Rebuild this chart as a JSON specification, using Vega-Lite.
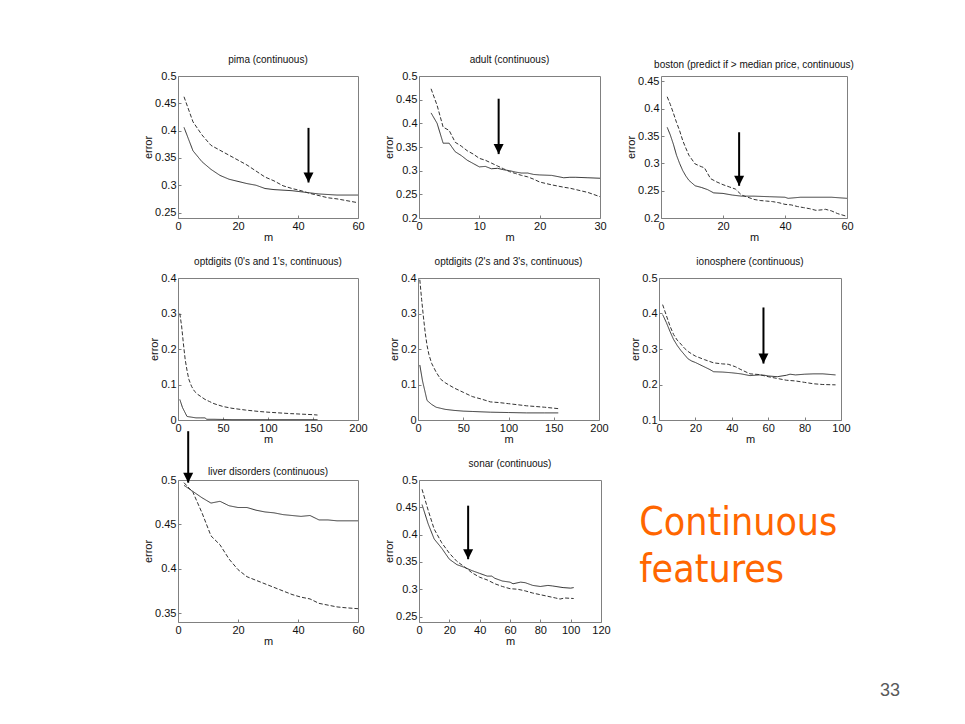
{
  "$schema": "https://vega.github.io/schema/vega-lite/v6.json",
  "background": "white",
  "padding": {"left": 142, "top": 54, "right": 40, "bottom": 20},
  "spacing": 13,
  "datasets": {
    "curves": [
      {"p":"pima","s":"solid","m":2,"e":0.406},{"p":"pima","s":"solid","m":5,"e":0.363},{"p":"pima","s":"solid","m":8,"e":0.343},{"p":"pima","s":"solid","m":11,"e":0.329},{"p":"pima","s":"solid","m":14,"e":0.318},{"p":"pima","s":"solid","m":17,"e":0.311},{"p":"pima","s":"solid","m":20,"e":0.307},{"p":"pima","s":"solid","m":23,"e":0.303},{"p":"pima","s":"solid","m":26,"e":0.300},{"p":"pima","s":"solid","m":29,"e":0.294},{"p":"pima","s":"solid","m":32,"e":0.292},{"p":"pima","s":"solid","m":35,"e":0.291},{"p":"pima","s":"solid","m":38,"e":0.290},{"p":"pima","s":"solid","m":41,"e":0.288},{"p":"pima","s":"solid","m":44,"e":0.286},{"p":"pima","s":"solid","m":47,"e":0.284},{"p":"pima","s":"solid","m":50,"e":0.283},{"p":"pima","s":"solid","m":53,"e":0.282},{"p":"pima","s":"solid","m":56,"e":0.282},{"p":"pima","s":"solid","m":60,"e":0.282},
      {"p":"pima","s":"dashed","m":2,"e":0.462},{"p":"pima","s":"dashed","m":5,"e":0.416},{"p":"pima","s":"dashed","m":8,"e":0.392},{"p":"pima","s":"dashed","m":11,"e":0.373},{"p":"pima","s":"dashed","m":14,"e":0.364},{"p":"pima","s":"dashed","m":17,"e":0.355},{"p":"pima","s":"dashed","m":20,"e":0.346},{"p":"pima","s":"dashed","m":23,"e":0.337},{"p":"pima","s":"dashed","m":26,"e":0.326},{"p":"pima","s":"dashed","m":29,"e":0.315},{"p":"pima","s":"dashed","m":32,"e":0.308},{"p":"pima","s":"dashed","m":35,"e":0.299},{"p":"pima","s":"dashed","m":38,"e":0.294},{"p":"pima","s":"dashed","m":41,"e":0.290},{"p":"pima","s":"dashed","m":44,"e":0.285},{"p":"pima","s":"dashed","m":47,"e":0.281},{"p":"pima","s":"dashed","m":50,"e":0.277},{"p":"pima","s":"dashed","m":53,"e":0.275},{"p":"pima","s":"dashed","m":56,"e":0.272},{"p":"pima","s":"dashed","m":60,"e":0.268},

      {"p":"adult","s":"solid","m":2,"e":0.422},{"p":"adult","s":"solid","m":3,"e":0.400},{"p":"adult","s":"solid","m":4,"e":0.358},{"p":"adult","s":"solid","m":5,"e":0.358},{"p":"adult","s":"solid","m":6,"e":0.340},{"p":"adult","s":"solid","m":7,"e":0.332},{"p":"adult","s":"solid","m":8,"e":0.322},{"p":"adult","s":"solid","m":9,"e":0.315},{"p":"adult","s":"solid","m":10,"e":0.308},{"p":"adult","s":"solid","m":11,"e":0.309},{"p":"adult","s":"solid","m":12,"e":0.304},{"p":"adult","s":"solid","m":13,"e":0.305},{"p":"adult","s":"solid","m":14,"e":0.302},{"p":"adult","s":"solid","m":15,"e":0.300},{"p":"adult","s":"solid","m":16,"e":0.297},{"p":"adult","s":"solid","m":17,"e":0.295},{"p":"adult","s":"solid","m":18,"e":0.295},{"p":"adult","s":"solid","m":19,"e":0.292},{"p":"adult","s":"solid","m":20,"e":0.291},{"p":"adult","s":"solid","m":22,"e":0.290},{"p":"adult","s":"solid","m":24,"e":0.285},{"p":"adult","s":"solid","m":25,"e":0.286},{"p":"adult","s":"solid","m":26,"e":0.286},{"p":"adult","s":"solid","m":28,"e":0.285},{"p":"adult","s":"solid","m":30,"e":0.284},
      {"p":"adult","s":"dashed","m":2,"e":0.473},{"p":"adult","s":"dashed","m":3,"e":0.438},{"p":"adult","s":"dashed","m":4,"e":0.392},{"p":"adult","s":"dashed","m":5,"e":0.385},{"p":"adult","s":"dashed","m":6,"e":0.360},{"p":"adult","s":"dashed","m":7,"e":0.352},{"p":"adult","s":"dashed","m":8,"e":0.342},{"p":"adult","s":"dashed","m":9,"e":0.335},{"p":"adult","s":"dashed","m":10,"e":0.326},{"p":"adult","s":"dashed","m":11,"e":0.322},{"p":"adult","s":"dashed","m":12,"e":0.316},{"p":"adult","s":"dashed","m":13,"e":0.310},{"p":"adult","s":"dashed","m":14,"e":0.304},{"p":"adult","s":"dashed","m":15,"e":0.298},{"p":"adult","s":"dashed","m":16,"e":0.294},{"p":"adult","s":"dashed","m":17,"e":0.290},{"p":"adult","s":"dashed","m":18,"e":0.287},{"p":"adult","s":"dashed","m":19,"e":0.282},{"p":"adult","s":"dashed","m":20,"e":0.276},{"p":"adult","s":"dashed","m":22,"e":0.270},{"p":"adult","s":"dashed","m":24,"e":0.265},{"p":"adult","s":"dashed","m":25,"e":0.263},{"p":"adult","s":"dashed","m":26,"e":0.260},{"p":"adult","s":"dashed","m":28,"e":0.254},{"p":"adult","s":"dashed","m":30,"e":0.245},

      {"p":"boston","s":"solid","m":2,"e":0.366},{"p":"boston","s":"solid","m":3,"e":0.352},{"p":"boston","s":"solid","m":4,"e":0.335},{"p":"boston","s":"solid","m":5,"e":0.315},{"p":"boston","s":"solid","m":6,"e":0.300},{"p":"boston","s":"solid","m":7,"e":0.287},{"p":"boston","s":"solid","m":8,"e":0.277},{"p":"boston","s":"solid","m":9,"e":0.269},{"p":"boston","s":"solid","m":11,"e":0.259},{"p":"boston","s":"solid","m":13,"e":0.256},{"p":"boston","s":"solid","m":15,"e":0.252},{"p":"boston","s":"solid","m":17,"e":0.246},{"p":"boston","s":"solid","m":20,"e":0.245},{"p":"boston","s":"solid","m":23,"e":0.242},{"p":"boston","s":"solid","m":26,"e":0.240},{"p":"boston","s":"solid","m":30,"e":0.240},{"p":"boston","s":"solid","m":35,"e":0.239},{"p":"boston","s":"solid","m":40,"e":0.238},{"p":"boston","s":"solid","m":41,"e":0.236},{"p":"boston","s":"solid","m":45,"e":0.238},{"p":"boston","s":"solid","m":50,"e":0.238},{"p":"boston","s":"solid","m":55,"e":0.238},{"p":"boston","s":"solid","m":60,"e":0.236},
      {"p":"boston","s":"dashed","m":2,"e":0.422},{"p":"boston","s":"dashed","m":3,"e":0.408},{"p":"boston","s":"dashed","m":4,"e":0.392},{"p":"boston","s":"dashed","m":5,"e":0.375},{"p":"boston","s":"dashed","m":6,"e":0.360},{"p":"boston","s":"dashed","m":7,"e":0.342},{"p":"boston","s":"dashed","m":8,"e":0.328},{"p":"boston","s":"dashed","m":9,"e":0.315},{"p":"boston","s":"dashed","m":11,"e":0.299},{"p":"boston","s":"dashed","m":13,"e":0.294},{"p":"boston","s":"dashed","m":14,"e":0.292},{"p":"boston","s":"dashed","m":16,"e":0.272},{"p":"boston","s":"dashed","m":18,"e":0.266},{"p":"boston","s":"dashed","m":20,"e":0.261},{"p":"boston","s":"dashed","m":22,"e":0.257},{"p":"boston","s":"dashed","m":24,"e":0.253},{"p":"boston","s":"dashed","m":26,"e":0.242},{"p":"boston","s":"dashed","m":28,"e":0.238},{"p":"boston","s":"dashed","m":30,"e":0.234},{"p":"boston","s":"dashed","m":32,"e":0.232},{"p":"boston","s":"dashed","m":34,"e":0.231},{"p":"boston","s":"dashed","m":36,"e":0.230},{"p":"boston","s":"dashed","m":38,"e":0.228},{"p":"boston","s":"dashed","m":40,"e":0.225},{"p":"boston","s":"dashed","m":42,"e":0.224},{"p":"boston","s":"dashed","m":44,"e":0.221},{"p":"boston","s":"dashed","m":46,"e":0.219},{"p":"boston","s":"dashed","m":48,"e":0.217},{"p":"boston","s":"dashed","m":50,"e":0.214},{"p":"boston","s":"dashed","m":52,"e":0.215},{"p":"boston","s":"dashed","m":53,"e":0.216},{"p":"boston","s":"dashed","m":55,"e":0.213},{"p":"boston","s":"dashed","m":57,"e":0.208},{"p":"boston","s":"dashed","m":60,"e":0.203},

      {"p":"opt01","s":"solid","m":2,"e":0.058},{"p":"opt01","s":"solid","m":5,"e":0.035},{"p":"opt01","s":"solid","m":10,"e":0.010},{"p":"opt01","s":"solid","m":15,"e":0.008},{"p":"opt01","s":"solid","m":20,"e":0.006},{"p":"opt01","s":"solid","m":25,"e":0.006},{"p":"opt01","s":"solid","m":30,"e":0.006},{"p":"opt01","s":"solid","m":32,"e":0.002},{"p":"opt01","s":"solid","m":40,"e":0.002},{"p":"opt01","s":"solid","m":60,"e":0.001},{"p":"opt01","s":"solid","m":80,"e":0.001},{"p":"opt01","s":"solid","m":100,"e":0.001},{"p":"opt01","s":"solid","m":120,"e":0.001},{"p":"opt01","s":"solid","m":140,"e":0.001},{"p":"opt01","s":"solid","m":155,"e":0.001},
      {"p":"opt01","s":"dashed","m":2,"e":0.300},{"p":"opt01","s":"dashed","m":4,"e":0.265},{"p":"opt01","s":"dashed","m":6,"e":0.215},{"p":"opt01","s":"dashed","m":8,"e":0.170},{"p":"opt01","s":"dashed","m":10,"e":0.140},{"p":"opt01","s":"dashed","m":12,"e":0.115},{"p":"opt01","s":"dashed","m":15,"e":0.095},{"p":"opt01","s":"dashed","m":18,"e":0.082},{"p":"opt01","s":"dashed","m":22,"e":0.072},{"p":"opt01","s":"dashed","m":26,"e":0.065},{"p":"opt01","s":"dashed","m":30,"e":0.058},{"p":"opt01","s":"dashed","m":35,"e":0.052},{"p":"opt01","s":"dashed","m":40,"e":0.046},{"p":"opt01","s":"dashed","m":50,"e":0.038},{"p":"opt01","s":"dashed","m":60,"e":0.033},{"p":"opt01","s":"dashed","m":75,"e":0.028},{"p":"opt01","s":"dashed","m":90,"e":0.024},{"p":"opt01","s":"dashed","m":100,"e":0.022},{"p":"opt01","s":"dashed","m":125,"e":0.018},{"p":"opt01","s":"dashed","m":150,"e":0.015},{"p":"opt01","s":"dashed","m":155,"e":0.014},

      {"p":"opt23","s":"solid","m":2,"e":0.155},{"p":"opt23","s":"solid","m":5,"e":0.110},{"p":"opt23","s":"solid","m":10,"e":0.055},{"p":"opt23","s":"solid","m":15,"e":0.044},{"p":"opt23","s":"solid","m":20,"e":0.036},{"p":"opt23","s":"solid","m":25,"e":0.033},{"p":"opt23","s":"solid","m":30,"e":0.030},{"p":"opt23","s":"solid","m":40,"e":0.027},{"p":"opt23","s":"solid","m":50,"e":0.025},{"p":"opt23","s":"solid","m":60,"e":0.024},{"p":"opt23","s":"solid","m":80,"e":0.022},{"p":"opt23","s":"solid","m":100,"e":0.021},{"p":"opt23","s":"solid","m":120,"e":0.020},{"p":"opt23","s":"solid","m":140,"e":0.020},{"p":"opt23","s":"solid","m":155,"e":0.020},
      {"p":"opt23","s":"dashed","m":2,"e":0.395},{"p":"opt23","s":"dashed","m":4,"e":0.340},{"p":"opt23","s":"dashed","m":6,"e":0.290},{"p":"opt23","s":"dashed","m":8,"e":0.245},{"p":"opt23","s":"dashed","m":10,"e":0.210},{"p":"opt23","s":"dashed","m":12,"e":0.185},{"p":"opt23","s":"dashed","m":15,"e":0.160},{"p":"opt23","s":"dashed","m":20,"e":0.135},{"p":"opt23","s":"dashed","m":25,"e":0.115},{"p":"opt23","s":"dashed","m":30,"e":0.105},{"p":"opt23","s":"dashed","m":40,"e":0.090},{"p":"opt23","s":"dashed","m":50,"e":0.078},{"p":"opt23","s":"dashed","m":60,"e":0.066},{"p":"opt23","s":"dashed","m":70,"e":0.059},{"p":"opt23","s":"dashed","m":80,"e":0.051},{"p":"opt23","s":"dashed","m":90,"e":0.049},{"p":"opt23","s":"dashed","m":100,"e":0.046},{"p":"opt23","s":"dashed","m":120,"e":0.040},{"p":"opt23","s":"dashed","m":140,"e":0.036},{"p":"opt23","s":"dashed","m":155,"e":0.032},

      {"p":"iono","s":"solid","m":2,"e":0.397},{"p":"iono","s":"solid","m":4,"e":0.375},{"p":"iono","s":"solid","m":6,"e":0.350},{"p":"iono","s":"solid","m":8,"e":0.327},{"p":"iono","s":"solid","m":10,"e":0.310},{"p":"iono","s":"solid","m":12,"e":0.296},{"p":"iono","s":"solid","m":14,"e":0.284},{"p":"iono","s":"solid","m":16,"e":0.272},{"p":"iono","s":"solid","m":18,"e":0.266},{"p":"iono","s":"solid","m":20,"e":0.262},{"p":"iono","s":"solid","m":24,"e":0.252},{"p":"iono","s":"solid","m":28,"e":0.242},{"p":"iono","s":"solid","m":30,"e":0.236},{"p":"iono","s":"solid","m":35,"e":0.235},{"p":"iono","s":"solid","m":40,"e":0.233},{"p":"iono","s":"solid","m":45,"e":0.230},{"p":"iono","s":"solid","m":50,"e":0.225},{"p":"iono","s":"solid","m":55,"e":0.227},{"p":"iono","s":"solid","m":58,"e":0.226},{"p":"iono","s":"solid","m":60,"e":0.224},{"p":"iono","s":"solid","m":65,"e":0.222},{"p":"iono","s":"solid","m":70,"e":0.226},{"p":"iono","s":"solid","m":72,"e":0.229},{"p":"iono","s":"solid","m":75,"e":0.227},{"p":"iono","s":"solid","m":80,"e":0.229},{"p":"iono","s":"solid","m":85,"e":0.230},{"p":"iono","s":"solid","m":90,"e":0.230},{"p":"iono","s":"solid","m":97,"e":0.227},
      {"p":"iono","s":"dashed","m":2,"e":0.425},{"p":"iono","s":"dashed","m":4,"e":0.395},{"p":"iono","s":"dashed","m":6,"e":0.365},{"p":"iono","s":"dashed","m":8,"e":0.341},{"p":"iono","s":"dashed","m":10,"e":0.325},{"p":"iono","s":"dashed","m":12,"e":0.314},{"p":"iono","s":"dashed","m":14,"e":0.302},{"p":"iono","s":"dashed","m":16,"e":0.293},{"p":"iono","s":"dashed","m":18,"e":0.286},{"p":"iono","s":"dashed","m":20,"e":0.280},{"p":"iono","s":"dashed","m":25,"e":0.270},{"p":"iono","s":"dashed","m":30,"e":0.261},{"p":"iono","s":"dashed","m":35,"e":0.258},{"p":"iono","s":"dashed","m":38,"e":0.257},{"p":"iono","s":"dashed","m":42,"e":0.250},{"p":"iono","s":"dashed","m":45,"e":0.242},{"p":"iono","s":"dashed","m":50,"e":0.230},{"p":"iono","s":"dashed","m":55,"e":0.228},{"p":"iono","s":"dashed","m":60,"e":0.222},{"p":"iono","s":"dashed","m":65,"e":0.217},{"p":"iono","s":"dashed","m":70,"e":0.212},{"p":"iono","s":"dashed","m":75,"e":0.210},{"p":"iono","s":"dashed","m":80,"e":0.206},{"p":"iono","s":"dashed","m":85,"e":0.202},{"p":"iono","s":"dashed","m":90,"e":0.200},{"p":"iono","s":"dashed","m":97,"e":0.199},

      {"p":"liver","s":"solid","m":2,"e":0.494},{"p":"liver","s":"solid","m":5,"e":0.487},{"p":"liver","s":"solid","m":8,"e":0.480},{"p":"liver","s":"solid","m":11,"e":0.474},{"p":"liver","s":"solid","m":14,"e":0.476},{"p":"liver","s":"solid","m":17,"e":0.471},{"p":"liver","s":"solid","m":20,"e":0.469},{"p":"liver","s":"solid","m":23,"e":0.469},{"p":"liver","s":"solid","m":26,"e":0.466},{"p":"liver","s":"solid","m":29,"e":0.464},{"p":"liver","s":"solid","m":32,"e":0.463},{"p":"liver","s":"solid","m":35,"e":0.461},{"p":"liver","s":"solid","m":38,"e":0.460},{"p":"liver","s":"solid","m":41,"e":0.459},{"p":"liver","s":"solid","m":44,"e":0.460},{"p":"liver","s":"solid","m":47,"e":0.455},{"p":"liver","s":"solid","m":50,"e":0.455},{"p":"liver","s":"solid","m":53,"e":0.454},{"p":"liver","s":"solid","m":56,"e":0.454},{"p":"liver","s":"solid","m":60,"e":0.454},
      {"p":"liver","s":"dashed","m":2,"e":0.497},{"p":"liver","s":"dashed","m":5,"e":0.486},{"p":"liver","s":"dashed","m":8,"e":0.463},{"p":"liver","s":"dashed","m":11,"e":0.437},{"p":"liver","s":"dashed","m":14,"e":0.427},{"p":"liver","s":"dashed","m":17,"e":0.411},{"p":"liver","s":"dashed","m":20,"e":0.399},{"p":"liver","s":"dashed","m":23,"e":0.391},{"p":"liver","s":"dashed","m":26,"e":0.387},{"p":"liver","s":"dashed","m":29,"e":0.383},{"p":"liver","s":"dashed","m":32,"e":0.379},{"p":"liver","s":"dashed","m":35,"e":0.375},{"p":"liver","s":"dashed","m":38,"e":0.371},{"p":"liver","s":"dashed","m":41,"e":0.368},{"p":"liver","s":"dashed","m":44,"e":0.366},{"p":"liver","s":"dashed","m":47,"e":0.361},{"p":"liver","s":"dashed","m":50,"e":0.359},{"p":"liver","s":"dashed","m":53,"e":0.357},{"p":"liver","s":"dashed","m":56,"e":0.356},{"p":"liver","s":"dashed","m":60,"e":0.355},

      {"p":"sonar","s":"solid","m":2,"e":0.455},{"p":"sonar","s":"solid","m":6,"e":0.420},{"p":"sonar","s":"solid","m":10,"e":0.392},{"p":"sonar","s":"solid","m":15,"e":0.375},{"p":"sonar","s":"solid","m":20,"e":0.355},{"p":"sonar","s":"solid","m":25,"e":0.345},{"p":"sonar","s":"solid","m":30,"e":0.340},{"p":"sonar","s":"solid","m":35,"e":0.334},{"p":"sonar","s":"solid","m":40,"e":0.329},{"p":"sonar","s":"solid","m":45,"e":0.324},{"p":"sonar","s":"solid","m":48,"e":0.324},{"p":"sonar","s":"solid","m":50,"e":0.320},{"p":"sonar","s":"solid","m":55,"e":0.315},{"p":"sonar","s":"solid","m":60,"e":0.313},{"p":"sonar","s":"solid","m":62,"e":0.310},{"p":"sonar","s":"solid","m":67,"e":0.313},{"p":"sonar","s":"solid","m":70,"e":0.312},{"p":"sonar","s":"solid","m":75,"e":0.307},{"p":"sonar","s":"solid","m":80,"e":0.305},{"p":"sonar","s":"solid","m":85,"e":0.307},{"p":"sonar","s":"solid","m":88,"e":0.306},{"p":"sonar","s":"solid","m":95,"e":0.303},{"p":"sonar","s":"solid","m":100,"e":0.302},{"p":"sonar","s":"solid","m":102,"e":0.303},
      {"p":"sonar","s":"dashed","m":2,"e":0.483},{"p":"sonar","s":"dashed","m":6,"e":0.445},{"p":"sonar","s":"dashed","m":10,"e":0.410},{"p":"sonar","s":"dashed","m":15,"e":0.385},{"p":"sonar","s":"dashed","m":20,"e":0.366},{"p":"sonar","s":"dashed","m":25,"e":0.351},{"p":"sonar","s":"dashed","m":30,"e":0.341},{"p":"sonar","s":"dashed","m":35,"e":0.330},{"p":"sonar","s":"dashed","m":40,"e":0.322},{"p":"sonar","s":"dashed","m":45,"e":0.317},{"p":"sonar","s":"dashed","m":50,"e":0.310},{"p":"sonar","s":"dashed","m":55,"e":0.305},{"p":"sonar","s":"dashed","m":60,"e":0.301},{"p":"sonar","s":"dashed","m":65,"e":0.300},{"p":"sonar","s":"dashed","m":70,"e":0.297},{"p":"sonar","s":"dashed","m":75,"e":0.293},{"p":"sonar","s":"dashed","m":80,"e":0.290},{"p":"sonar","s":"dashed","m":85,"e":0.287},{"p":"sonar","s":"dashed","m":90,"e":0.284},{"p":"sonar","s":"dashed","m":93,"e":0.282},{"p":"sonar","s":"dashed","m":96,"e":0.284},{"p":"sonar","s":"dashed","m":102,"e":0.283}
    ],
    "arrows": [
      {"p":"pima","m":43.5,"top":0.405,"tip":0.305},
      {"p":"adult","m":13.2,"top":0.452,"tip":0.335},
      {"p":"boston","m":25.2,"top":0.357,"tip":0.259},
      {"p":"iono","m":57.4,"top":0.417,"tip":0.259},
      {"p":"liver","m":3.4,"top":0.555,"tip":0.497},
      {"p":"sonar","m":32.4,"top":0.453,"tip":0.355}
    ],
    "headline": [
      {"t":"Continuous","col":-0.095,"row":0.25},
      {"t":"features","col":-0.095,"row":0.464}
    ],
    "pagenum": [
      {"t":"33","col":0.992,"row":0.982}
    ]
  },
  "vconcat": [
    {
      "hconcat": [
        {
          "width": 180, "height": 142,
          "title": "pima (continuous)",
          "layer": [
            {"data": {"name": "curves"}, "transform": [{"filter": "datum.p == 'pima'"}], "mark": {"type": "line", "strokeWidth": 1, "color": "#333"},
             "encoding": {"x": {"field": "m", "type": "quantitative", "scale": {"domain": [0, 60]}, "axis": {"values": [0, 20, 40, 60], "title": "m"}},
                          "y": {"field": "e", "type": "quantitative", "scale": {"domain": [0.25, 0.5]}, "axis": {"values": [0.25, 0.3, 0.35, 0.4, 0.45, 0.5], "title": "error"}},
                          "strokeDash": {"field": "s", "type": "nominal", "scale": {"domain": ["solid", "dashed"], "range": [[1, 0], [4, 2]]}, "legend": null}}},
            {"data": {"name": "arrows"}, "transform": [{"filter": "datum.p == 'pima'"}], "mark": {"type": "rule", "strokeWidth": 2, "color": "black"},
             "encoding": {"x": {"field": "m", "type": "quantitative", "axis": {"values": [0, 20, 40, 60], "title": "m"}}, "y": {"field": "top", "type": "quantitative", "axis": {"values": [0.25, 0.3, 0.35, 0.4, 0.45, 0.5], "title": "error"}}, "y2": {"field": "tip"}}},
            {"data": {"name": "arrows"}, "transform": [{"filter": "datum.p == 'pima'"}], "mark": {"type": "point", "shape": "M0,0L-1,-2L1,-2Z", "size": 100, "filled": true, "color": "black", "opacity": 1},
             "encoding": {"x": {"field": "m", "type": "quantitative", "axis": {"values": [0, 20, 40, 60], "title": "m"}}, "y": {"field": "tip", "type": "quantitative", "axis": {"values": [0.25, 0.3, 0.35, 0.4, 0.45, 0.5], "title": "error"}}}}
          ]
        },
        {
          "width": 181, "height": 142,
          "title": "adult (continuous)",
          "layer": [
            {"data": {"name": "curves"}, "transform": [{"filter": "datum.p == 'adult'"}], "mark": {"type": "line", "strokeWidth": 1, "color": "#333"},
             "encoding": {"x": {"field": "m", "type": "quantitative", "scale": {"domain": [0, 30]}, "axis": {"values": [0, 10, 20, 30], "title": "m"}},
                          "y": {"field": "e", "type": "quantitative", "scale": {"domain": [0.2, 0.5]}, "axis": {"values": [0.2, 0.25, 0.3, 0.35, 0.4, 0.45, 0.5], "title": "error"}},
                          "strokeDash": {"field": "s", "type": "nominal", "scale": {"domain": ["solid", "dashed"], "range": [[1, 0], [4, 2]]}, "legend": null}}},
            {"data": {"name": "arrows"}, "transform": [{"filter": "datum.p == 'adult'"}], "mark": {"type": "rule", "strokeWidth": 2, "color": "black"},
             "encoding": {"x": {"field": "m", "type": "quantitative", "axis": {"values": [0, 10, 20, 30], "title": "m"}}, "y": {"field": "top", "type": "quantitative", "axis": {"values": [0.2, 0.25, 0.3, 0.35, 0.4, 0.45, 0.5], "title": "error"}}, "y2": {"field": "tip"}}},
            {"data": {"name": "arrows"}, "transform": [{"filter": "datum.p == 'adult'"}], "mark": {"type": "point", "shape": "M0,0L-1,-2L1,-2Z", "size": 100, "filled": true, "color": "black", "opacity": 1},
             "encoding": {"x": {"field": "m", "type": "quantitative", "axis": {"values": [0, 10, 20, 30], "title": "m"}}, "y": {"field": "tip", "type": "quantitative", "axis": {"values": [0.2, 0.25, 0.3, 0.35, 0.4, 0.45, 0.5], "title": "error"}}}}
          ]
        },
        {
          "width": 186, "height": 142,
          "title": "boston (predict if > median price, continuous)",
          "layer": [
            {"data": {"name": "curves"}, "transform": [{"filter": "datum.p == 'boston'"}], "mark": {"type": "line", "strokeWidth": 1, "color": "#333"},
             "encoding": {"x": {"field": "m", "type": "quantitative", "scale": {"domain": [0, 60]}, "axis": {"values": [0, 20, 40, 60], "title": "m"}},
                          "y": {"field": "e", "type": "quantitative", "scale": {"domain": [0.2, 0.45]}, "axis": {"values": [0.2, 0.25, 0.3, 0.35, 0.4, 0.45], "title": "error"}},
                          "strokeDash": {"field": "s", "type": "nominal", "scale": {"domain": ["solid", "dashed"], "range": [[1, 0], [4, 2]]}, "legend": null}}},
            {"data": {"name": "arrows"}, "transform": [{"filter": "datum.p == 'boston'"}], "mark": {"type": "rule", "strokeWidth": 2, "color": "black"},
             "encoding": {"x": {"field": "m", "type": "quantitative", "axis": {"values": [0, 20, 40, 60], "title": "m"}}, "y": {"field": "top", "type": "quantitative", "axis": {"values": [0.2, 0.25, 0.3, 0.35, 0.4, 0.45], "title": "error"}}, "y2": {"field": "tip"}}},
            {"data": {"name": "arrows"}, "transform": [{"filter": "datum.p == 'boston'"}], "mark": {"type": "point", "shape": "M0,0L-1,-2L1,-2Z", "size": 100, "filled": true, "color": "black", "opacity": 1},
             "encoding": {"x": {"field": "m", "type": "quantitative", "axis": {"values": [0, 20, 40, 60], "title": "m"}}, "y": {"field": "tip", "type": "quantitative", "axis": {"values": [0.2, 0.25, 0.3, 0.35, 0.4, 0.45], "title": "error"}}}}
          ]
        }
      ],
      "spacing": 61,
      "bounds": "flush"
    },
    {
      "spacing": -16,
      "vconcat": [
        {
          "hconcat": [
            {
              "width": 180, "height": 142,
              "title": "optdigits (0's and 1's, continuous)",
              "layer": [
                {"data": {"name": "curves"}, "transform": [{"filter": "datum.p == 'opt01'"}], "mark": {"type": "line", "strokeWidth": 1, "color": "#333"},
                 "encoding": {"x": {"field": "m", "type": "quantitative", "scale": {"domain": [0, 200]}, "axis": {"values": [0, 50, 100, 150, 200], "title": "m"}},
                              "y": {"field": "e", "type": "quantitative", "scale": {"domain": [0, 0.4]}, "axis": {"values": [0, 0.1, 0.2, 0.3, 0.4], "title": "error"}},
                              "strokeDash": {"field": "s", "type": "nominal", "scale": {"domain": ["solid", "dashed"], "range": [[1, 0], [4, 2]]}, "legend": null}}}
              ]
            },
            {
              "width": 181, "height": 142,
              "title": "optdigits (2's and 3's, continuous)",
              "layer": [
                {"data": {"name": "curves"}, "transform": [{"filter": "datum.p == 'opt23'"}], "mark": {"type": "line", "strokeWidth": 1, "color": "#333"},
                 "encoding": {"x": {"field": "m", "type": "quantitative", "scale": {"domain": [0, 200]}, "axis": {"values": [0, 50, 100, 150, 200], "title": "m"}},
                              "y": {"field": "e", "type": "quantitative", "scale": {"domain": [0, 0.4]}, "axis": {"values": [0, 0.1, 0.2, 0.3, 0.4], "title": "error"}},
                              "strokeDash": {"field": "s", "type": "nominal", "scale": {"domain": ["solid", "dashed"], "range": [[1, 0], [4, 2]]}, "legend": null}}}
              ]
            },
            {
              "width": 182, "height": 142,
              "title": "ionosphere (continuous)",
              "layer": [
                {"data": {"name": "curves"}, "transform": [{"filter": "datum.p == 'iono'"}], "mark": {"type": "line", "strokeWidth": 1, "color": "#333"},
                 "encoding": {"x": {"field": "m", "type": "quantitative", "scale": {"domain": [0, 100]}, "axis": {"values": [0, 20, 40, 60, 80, 100], "title": "m"}},
                              "y": {"field": "e", "type": "quantitative", "scale": {"domain": [0.1, 0.5]}, "axis": {"values": [0.1, 0.2, 0.3, 0.4, 0.5], "title": "error"}},
                              "strokeDash": {"field": "s", "type": "nominal", "scale": {"domain": ["solid", "dashed"], "range": [[1, 0], [4, 2]]}, "legend": null}}},
                {"data": {"name": "arrows"}, "transform": [{"filter": "datum.p == 'iono'"}], "mark": {"type": "rule", "strokeWidth": 2, "color": "black"},
                 "encoding": {"x": {"field": "m", "type": "quantitative", "axis": {"values": [0, 20, 40, 60, 80, 100], "title": "m"}}, "y": {"field": "top", "type": "quantitative", "axis": {"values": [0.1, 0.2, 0.3, 0.4, 0.5], "title": "error"}}, "y2": {"field": "tip"}}},
                {"data": {"name": "arrows"}, "transform": [{"filter": "datum.p == 'iono'"}], "mark": {"type": "point", "shape": "M0,0L-1,-2L1,-2Z", "size": 100, "filled": true, "color": "black", "opacity": 1},
                 "encoding": {"x": {"field": "m", "type": "quantitative", "axis": {"values": [0, 20, 40, 60, 80, 100], "title": "m"}}, "y": {"field": "tip", "type": "quantitative", "axis": {"values": [0.1, 0.2, 0.3, 0.4, 0.5], "title": "error"}}}}
              ]
            }
          ],
          "spacing": 60,
          "bounds": "flush"
        },
        {
          "hconcat": [
            {
              "width": 180, "height": 142,
              "title": {"text": "liver disorders (continuous)", "offset": -47},
              "layer": [
                {"data": {"name": "curves"}, "transform": [{"filter": "datum.p == 'liver'"}], "mark": {"type": "line", "strokeWidth": 1, "color": "#333"},
                 "encoding": {"x": {"field": "m", "type": "quantitative", "scale": {"domain": [0, 60]}, "axis": {"values": [0, 20, 40, 60], "title": "m"}},
                              "y": {"field": "e", "type": "quantitative", "scale": {"domain": [0.35, 0.5]}, "axis": {"values": [0.35, 0.4, 0.45, 0.5], "title": "error"}},
                              "strokeDash": {"field": "s", "type": "nominal", "scale": {"domain": ["solid", "dashed"], "range": [[1, 0], [4, 2]]}, "legend": null}}},
                {"data": {"name": "arrows"}, "transform": [{"filter": "datum.p == 'liver'"}], "mark": {"type": "rule", "strokeWidth": 2, "color": "black"},
                 "encoding": {"x": {"field": "m", "type": "quantitative", "axis": {"values": [0, 20, 40, 60], "title": "m"}}, "y": {"field": "top", "type": "quantitative", "axis": {"values": [0.35, 0.4, 0.45, 0.5], "title": "error"}}, "y2": {"field": "tip"}}},
                {"data": {"name": "arrows"}, "transform": [{"filter": "datum.p == 'liver'"}], "mark": {"type": "point", "shape": "M0,0L-1,-2L1,-2Z", "size": 100, "filled": true, "color": "black", "opacity": 1},
                 "encoding": {"x": {"field": "m", "type": "quantitative", "axis": {"values": [0, 20, 40, 60], "title": "m"}}, "y": {"field": "tip", "type": "quantitative", "axis": {"values": [0.35, 0.4, 0.45, 0.5], "title": "error"}}}}
              ]
            },
            {
              "width": 182, "height": 142,
              "title": "sonar (continuous)",
              "layer": [
                {"data": {"name": "curves"}, "transform": [{"filter": "datum.p == 'sonar'"}], "mark": {"type": "line", "strokeWidth": 1, "color": "#333"},
                 "encoding": {"x": {"field": "m", "type": "quantitative", "scale": {"domain": [0, 120]}, "axis": {"values": [0, 20, 40, 60, 80, 100, 120], "title": "m"}},
                              "y": {"field": "e", "type": "quantitative", "scale": {"domain": [0.25, 0.5]}, "axis": {"values": [0.25, 0.3, 0.35, 0.4, 0.45, 0.5], "title": "error"}},
                              "strokeDash": {"field": "s", "type": "nominal", "scale": {"domain": ["solid", "dashed"], "range": [[1, 0], [4, 2]]}, "legend": null}}},
                {"data": {"name": "arrows"}, "transform": [{"filter": "datum.p == 'sonar'"}], "mark": {"type": "rule", "strokeWidth": 2, "color": "black"},
                 "encoding": {"x": {"field": "m", "type": "quantitative", "axis": {"values": [0, 20, 40, 60, 80, 100, 120], "title": "m"}}, "y": {"field": "top", "type": "quantitative", "axis": {"values": [0.25, 0.3, 0.35, 0.4, 0.45, 0.5], "title": "error"}}, "y2": {"field": "tip"}}},
                {"data": {"name": "arrows"}, "transform": [{"filter": "datum.p == 'sonar'"}], "mark": {"type": "point", "shape": "M0,0L-1,-2L1,-2Z", "size": 100, "filled": true, "color": "black", "opacity": 1},
                 "encoding": {"x": {"field": "m", "type": "quantitative", "axis": {"values": [0, 20, 40, 60, 80, 100, 120], "title": "m"}}, "y": {"field": "tip", "type": "quantitative", "axis": {"values": [0.25, 0.3, 0.35, 0.4, 0.45, 0.5], "title": "error"}}}}
              ]
            },
            {
              "width": 240, "height": 220,
              "view": {"stroke": null},
              "layer": [
                {"data": {"name": "headline"}, "mark": {"type": "text", "align": "left", "baseline": "alphabetic", "fontSize": 39, "font": "DejaVu Sans Condensed", "color": "#ff6600"},
                 "encoding": {"x": {"field": "col", "type": "quantitative", "scale": {"domain": [0, 1]}, "axis": null},
                              "y": {"field": "row", "type": "quantitative", "scale": {"domain": [0, 1], "reverse": true}, "axis": null},
                              "text": {"field": "t"}}},
                {"data": {"name": "pagenum"}, "mark": {"type": "text", "align": "right", "baseline": "alphabetic", "fontSize": 18, "font": "Liberation Sans", "color": "#595959"},
                 "encoding": {"x": {"field": "col", "type": "quantitative", "axis": null},
                              "y": {"field": "row", "type": "quantitative", "axis": null},
                              "text": {"field": "t"}}}
              ]
            }
          ],
          "spacing": 61,
          "bounds": "flush"
        }
      ]
    }
  ],
  "config": {
    "font": "Liberation Sans",
    "view": {"stroke": "#808080", "strokeWidth": 1},
    "axis": {"grid": false, "domain": false, "ticks": true, "tickSize": -3, "tickColor": "#808080", "labelFontSize": 11, "labelColor": "#111", "labelPadding": 5, "labelFlush": false, "labelOverlap": false, "format": "~r", "titleFontSize": 11, "titleFontWeight": "normal", "titleColor": "#111", "titlePadding": 1},
    "axisX": {"titlePadding": 0},
    "title": {"fontSize": 10, "fontWeight": "normal", "color": "#111", "frame": "group", "offset": 5}
  }
}
